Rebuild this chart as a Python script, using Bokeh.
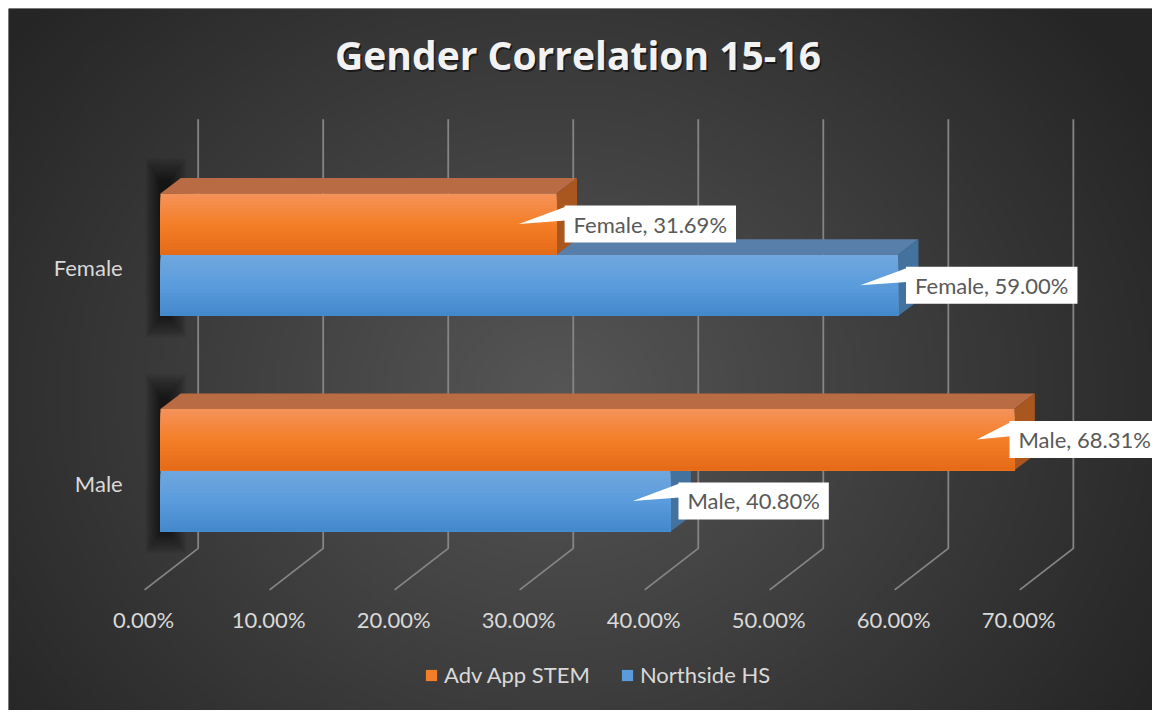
import numpy as np
from bokeh.plotting import figure
from bokeh.models import Range1d, Legend, LegendItem
from bokeh.core.properties import value
from bokeh.embed import file_html
from bokeh.resources import INLINE

# ---------------- data ----------------
categories = ["Male", "Female"]
northside_hs = [40.80, 59.00]
adv_app_stem = [68.31, 31.69]
x_ticks = [0, 10, 20, 30, 40, 50, 60, 70]
x_tick_labels = ["0.00%", "10.00%", "20.00%", "30.00%", "40.00%", "50.00%", "60.00%", "70.00%"]
title_text = "Gender Correlation 15-16"
series_names = ["Northside HS", "Adv App STEM"]

# ---------------- layout / style ----------------
W, H = 1152, 710          # canvas
MARGIN = 8                # white strip at top / left
SX = 12.59                # reference px per percentage point
SY = 218.0                # reference px per category slot
REF_W, REF_H = 1152, 710  # reference extent covered by the frame (ref px)
ZERO_REF = 161 - 8        # ref px of 0% front plane from frame left
TOP_CAT_REF = 257 - 8     # ref px of top category centre from frame top

def px(d):
    return d / SX

def py(d):
    return d / SY

cat_pos = [i + 0.5 for i in range(len(categories))]
x_start = -ZERO_REF / SX
x_end = x_start + REF_W / SX
y_end = cat_pos[-1] + TOP_CAT_REF / SY
y_start = y_end - REF_H / SY

FONT = "Lato"
TXT = "#d9d9d9"

p = figure(width=W, height=H, x_range=Range1d(x_start, x_end), y_range=Range1d(y_start, y_end),
           output_backend="svg", toolbar_location=None,
           min_border_left=MARGIN, min_border_top=MARGIN, min_border_right=0, min_border_bottom=0,
           x_axis_type=None, y_axis_type=None, outline_line_color=None)
p.background_fill_color = "#2e2e2e"
p.border_fill_color = "white"

# ---------------- background radial gradient ----------------
gw, gh = 288, 178
gx = 8 + (np.arange(gw) + 0.5) * REF_W / gw
gy = 8 + (np.arange(gh) + 0.5) * REF_H / gh
GX, GY = np.meshgrid(gx, gy)
d = np.sqrt(((GX - 560) / 700.0) ** 2 + ((GY - 400) / 600.0) ** 2)
d = np.clip(d, 0, 1)
v = (86 - (86 - 37) * d).astype(np.uint8)
img = np.empty((gh, gw), dtype=np.uint32)
view = img.view(dtype=np.uint8).reshape((gh, gw, 4))
view[:, :, 0] = v
view[:, :, 1] = v
view[:, :, 2] = v
view[:, :, 3] = 255
img = np.flipud(img)
p.image_rgba(image=[img], x=x_start, y=y_start, dw=x_end - x_start, dh=y_end - y_start)

# ---------------- back wall + floor grid lines ----------------
wall_top = cat_pos[-1] + py(257 - 120)
wall_bottom = cat_pos[0] - py(554 - 475)
floor_front = cat_pos[0] - py(596 - 475)
gxs = [[t + px(38), t + px(38), t - px(16)] for t in x_ticks]
gys = [[wall_top, wall_bottom, floor_front] for _ in x_ticks]
p.multi_line(xs=gxs, ys=gys, line_color="#858585", line_width=1.8)

# ---------------- bars ----------------
BAR_H = py(62)
DDX = px(20.5)
DDY = py(15.5)

# soft shadows at the left end of each bar group
NSH = 16
for k in range(NSH):
    p.quad(left=[-px(15) + px(1.0 * k)] * len(cat_pos),
           right=[px(26) - px(1.2 * k)] * len(cat_pos),
           bottom=[c - BAR_H - py(22) + py(1.5 * k) for c in cat_pos],
           top=[c + BAR_H + DDY + py(20) - py(1.6 * k) for c in cat_pos],
           fill_color="black", fill_alpha=0.042, line_color=None)

def lerp_color(stops, t):
    for (p0, c0), (p1, c1) in zip(stops[:-1], stops[1:]):
        if p0 <= t <= p1:
            f = (t - p0) / (p1 - p0)
            r = [int(round(a + (b - a) * f)) for a, b in zip(c0, c1)]
            return "#%02x%02x%02x" % tuple(r)
    return "#%02x%02x%02x" % stops[-1][1]

series_styles = [
    dict(values=northside_hs, slot=0,
         stops=[(0, (113, 167, 222)), (0.5, (90, 156, 220)), (1, (68, 136, 204))],
         top="#587fa9", side="#44729f"),
    dict(values=adv_app_stem, slot=1,
         stops=[(0, (244, 146, 90)), (0.5, (244, 127, 40)), (1, (228, 106, 24))],
         top="#b96b43", side="#a9561f"),
]

NSTRIP = 16
front_renderers = []
for st in series_styles:
    vals = st["values"]
    y0s = [c - BAR_H + st["slot"] * BAR_H for c in cat_pos]
    y1s = [y0 + BAR_H for y0 in y0s]
    # top faces
    p.patches(xs=[[0, vv, vv + DDX, DDX] for vv in vals],
              ys=[[y1, y1, y1 + DDY, y1 + DDY] for y1 in y1s],
              fill_color=st["top"], line_color=None)
    # side faces
    p.patches(xs=[[vv, vv, vv + DDX, vv + DDX] for vv in vals],
              ys=[[y0, y1, y1 + DDY, y0 + DDY] for y0, y1 in zip(y0s, y1s)],
              fill_color=st["side"], line_color=None)
    # front faces (gradient strips)
    L, R, B, T, C = [], [], [], [], []
    for vv, y0, y1 in zip(vals, y0s, y1s):
        for k in range(NSTRIP):
            L.append(0)
            R.append(vv)
            B.append(y0)
            T.append(y1 - k * BAR_H / NSTRIP)
            C.append(lerp_color(st["stops"], (k + 0.5) / NSTRIP))
    r = p.quad(left=L, right=R, bottom=B, top=T, fill_color=C, line_color=None)
    front_renderers.append(r)

# ---------------- data label callouts ----------------
label_nudge = {("Adv App STEM", "Male"): -5}
for name, st in zip(series_names, series_styles):
    vals = st["values"]
    ycs = [c - BAR_H / 2 + st["slot"] * BAR_H for c in cat_pos]
    lx = [vv + px(label_nudge.get((name, cat), 8)) for vv, cat in zip(vals, categories)]
    p.patches(xs=[[vv - px(38), x + px(1), x + px(1)] for vv, x in zip(vals, lx)],
              ys=[[yc, yc + py(17.5), yc + py(3.5)] for yc in ycs],
              fill_color="white", line_color=None)
    p.text(x=lx, y=ycs,
           text=["%s, %.2f%%" % (cat, vv) for cat, vv in zip(categories, vals)],
           text_align="left", text_baseline="middle",
           text_font=value(FONT), text_font_size="22px", text_color="#595959",
           background_fill_color="white",
           padding=dict(left=9, right=9, top=5, bottom=5))

# ---------------- axis texts ----------------
p.text(x=[t - px(17) for t in x_ticks], y=[cat_pos[0] - py(151)] * len(x_ticks),
       text=x_tick_labels, text_align="center", text_baseline="middle",
       text_font=value(FONT), text_font_size="22px", text_color=TXT)
p.text(x=[-px(38)] * len(categories), y=[c - py(13) for c in cat_pos],
       text=categories, text_align="right", text_baseline="middle",
       text_font=value(FONT), text_font_size="22px", text_color=TXT)

# ---------------- title ----------------
tx = px(581.5 - 161)
ty = cat_pos[-1] + py(257 - 55)
p.text(x=[tx + px(1.5)], y=[ty - py(2)], text=[title_text], text_align="center",
       text_baseline="middle", text_font=value("Open Sans"), text_font_style="bold",
       text_font_size="39px", text_color="black", text_alpha=0.55)
p.text(x=[tx], y=[ty], text=[title_text], text_align="center",
       text_baseline="middle", text_font=value("Open Sans"), text_font_style="bold",
       text_font_size="39px", text_color="#f2f2f2")

# ---------------- legend ----------------
legend = Legend(items=[
    LegendItem(label=series_names[1], renderers=[front_renderers[1]], index=NSTRIP // 2),
    LegendItem(label=series_names[0], renderers=[front_renderers[0]], index=NSTRIP // 2),
], orientation="horizontal", location=(416, 22),
   label_text_font=FONT, label_text_font_size="22px", label_text_color=TXT,
   glyph_width=14, glyph_height=14, label_standoff=6, spacing=30,
   padding=0, margin=0, background_fill_alpha=0, border_line_color=None)
p.add_layout(legend)

open("out.html", "w").write(file_html(p, INLINE))
